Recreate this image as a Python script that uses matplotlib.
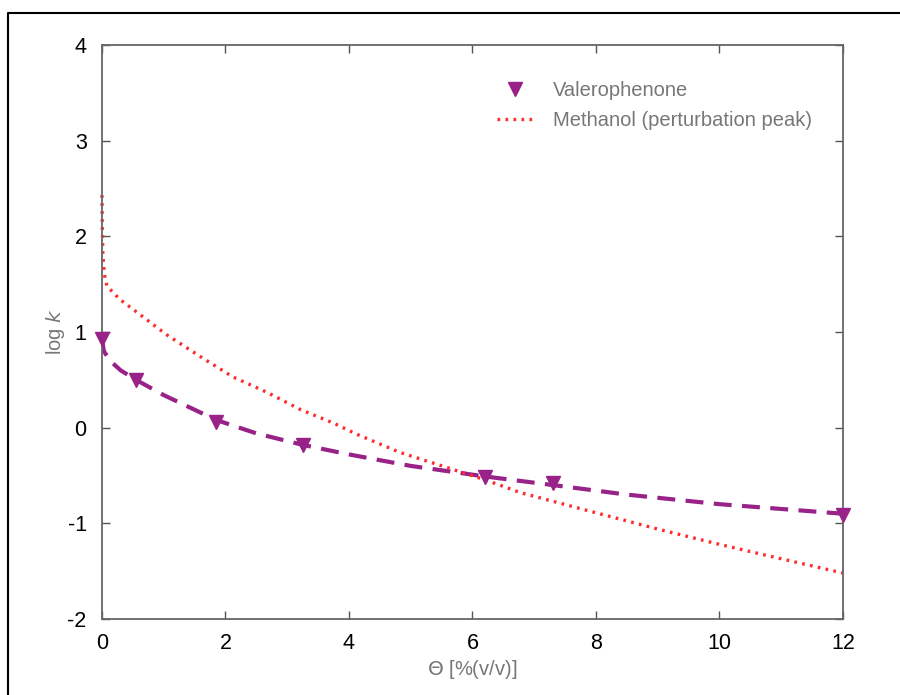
import numpy as np
import matplotlib.pyplot as plt
from matplotlib.lines import Line2D

plt.rcParams['font.family'] = ['Liberation Sans', 'DejaVu Sans']
plt.rcParams['axes.unicode_minus'] = False

# -----------------------------------------------------------------------------
# data

# measured points (valerophenone)
theta_pts = [0.0, 0.55, 1.85, 3.25, 6.2, 7.3, 12.0]
logk_pts = [0.93, 0.50, 0.06, -0.18, -0.52, -0.58, -0.91]

# fitted curve through the points (dashed)
theta_fit = [0.0, 0.03, 0.13, 0.3, 0.55, 1.0, 1.85, 2.5, 3.25, 4.0, 5.0,
             6.2, 7.3, 8.5, 10.0, 11.0, 12.0]
logk_fit = [0.93, 0.80, 0.70, 0.60, 0.50, 0.34, 0.08, -0.06, -0.18, -0.28,
            -0.40, -0.51, -0.60, -0.70, -0.80, -0.85, -0.90]

# methanol perturbation peak (dotted)
theta_meoh = [0.0, 0.005, 0.015, 0.04, 0.08, 0.29, 0.62, 1.05, 1.6, 2.12,
              2.67, 3.21, 3.74, 4.13, 4.83, 6.18, 6.78, 8.0, 9.0, 10.0,
              10.66, 12.0]
logk_meoh = [2.43, 2.10, 1.80, 1.60, 1.48, 1.34, 1.18, 0.97, 0.74, 0.53,
             0.37, 0.19, 0.05, -0.07, -0.26, -0.54, -0.68, -0.89, -1.06,
             -1.22, -1.32, -1.52]

xticks = [0, 2, 4, 6, 8, 10, 12]
yticks = [-2, -1, 0, 1, 2, 3, 4]

purple = '#992288'
red = '#ff2a2a'
grey = '#777777'

# -----------------------------------------------------------------------------

fig = plt.figure(figsize=(9, 6.95), dpi=100)
ax = fig.add_axes([0.1133, 0.1094, 0.8233, 0.8259])

ax.plot(theta_fit, logk_fit, color=purple, lw=3, dashes=(4.3, 2.5), zorder=2)
ax.plot(theta_pts, logk_pts, linestyle='none', marker='v', ms=10.5,
        color=purple, clip_on=False, zorder=3, label='Valerophenone')
ax.plot(theta_meoh, logk_meoh, color=red, lw=2.4, dashes=(0.8, 1.6),
        clip_on=False, zorder=2, label='Methanol (perturbation peak)')

ax.set_xlim(0, 12)
ax.set_ylim(-2, 4)
ax.set_xticks(xticks)
ax.set_yticks(yticks)
ax.tick_params(direction='in', length=6, width=1, color='#555555',
               top=True, right=True, labelsize=15.5, labelcolor='black', pad=10)
ax.tick_params(axis='y', pad=11)
for s in ax.spines.values():
    s.set_color('#666666')
    s.set_linewidth(1.3)

ax.set_xlabel(r'$\Theta$ [%(v/v)]', color=grey, fontsize=14.5, labelpad=3)
ax.set_ylabel('log $k$', color=grey, fontsize=14.5, labelpad=0)

leg = ax.legend(loc='upper left', bbox_to_anchor=(0.533, 0.937), frameon=False,
                fontsize=14.5, labelcolor=grey, handlelength=1.8,
                handletextpad=1.0, labelspacing=0.55, borderpad=0,
                borderaxespad=0)

# outer frame of the original figure (only top and left edges visible)
fig.add_artist(Line2D([8 / 900, 8 / 900, 1.0], [0.0, 1 - 12.5 / 695, 1 - 12.5 / 695],
                      transform=fig.transFigure, color='black', lw=1.5))

fig.savefig('out.png', dpi=100)
